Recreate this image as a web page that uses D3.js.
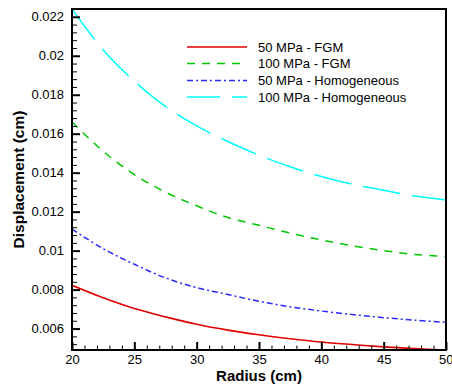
<!DOCTYPE html>
<html>
<head>
<meta charset="utf-8">
<script src="https://cdn.jsdelivr.net/npm/d3@7/dist/d3.min.js"></script>
<style>
  body { margin: 0; background: #fff; }
  svg { display: block; font-family: "Liberation Sans", Arial, sans-serif; }
</style>
</head>
<body>
<svg id="chart" width="452" height="387"></svg>
<script>
// ---- data ----
const radius = [20, 22.5, 25, 27.5, 30, 32.5, 35, 37.5, 40, 42.5, 45, 47.5, 50];
const fgm50  = [0.00822, 0.00758, 0.00703, 0.00660, 0.00622, 0.00592, 0.00568, 0.00548, 0.00531, 0.00518, 0.00506, 0.00497, 0.00490];
const fgm100 = [0.0166, 0.0151, 0.0139, 0.0130, 0.0123, 0.0117, 0.0113, 0.0109, 0.01055, 0.01025, 0.0100, 0.0098, 0.0097];
const hom50  = [0.0111, 0.0101, 0.0093, 0.0086, 0.0081, 0.00775, 0.0074, 0.00712, 0.0069, 0.00672, 0.00656, 0.00643, 0.00632];
const hom100 = [0.0224, 0.0203, 0.0187, 0.0174, 0.0164, 0.0156, 0.0149, 0.0143, 0.0138, 0.0134, 0.0131, 0.0128, 0.0126];
const seriesNames = ["50 MPa - FGM", "100 MPa - FGM", "50 MPa - Homogeneous", "100 MPa - Homogeneous"];
const xTicks = [20, 25, 30, 35, 40, 45, 50];
const yTicks = [0.006, 0.008, 0.01, 0.012, 0.014, 0.016, 0.018, 0.02, 0.022];
const yTickLabels = ["0.006", "0.008", "0.01", "0.012", "0.014", "0.016", "0.018", "0.02", "0.022"];

const series = [
  { name: seriesNames[0], values: fgm50,  color: "#e00000", dash: null, width: 1.6 },
  { name: seriesNames[1], values: fgm100, color: "#00c800", dash: "8,7", width: 1.5 },
  { name: seriesNames[2], values: hom50,  color: "#2828ff", dash: "6,3,2,3", width: 1.5 },
  { name: seriesNames[3], values: hom100, color: "#00ffff", dash: "38,12", width: 1.5 }
];

const svg = d3.select("#chart");
const L = 72, R = 446, T = 9, B = 350;

const x = d3.scaleLinear().domain([20, 50]).range([L, R]);
const y = d3.scaleLinear().domain([0.0049, 0.0224]).range([B, T]);

svg.append("clipPath").attr("id", "clip")
  .append("rect").attr("x", L).attr("y", T).attr("width", R - L).attr("height", B - T);

const line = d3.line().x(d => x(d[0])).y(d => y(d[1])).curve(d3.curveCatmullRom.alpha(0.5));

const plot = svg.append("g").attr("clip-path", "url(#clip)");
series.forEach(s => {
  plot.append("path")
    .datum(radius.map((r, i) => [r, s.values[i]]))
    .attr("d", line)
    .attr("fill", "none")
    .attr("stroke", s.color)
    .attr("stroke-width", s.width)
    .attr("stroke-dasharray", s.dash);
});

// axes with inward ticks
const xMinor = d3.range(20, 51, 1).filter(v => v % 5 !== 0);
const yMinor = d3.range(0.0052, 0.0225, 0.0004).filter(v => Math.abs(v / 0.002 - Math.round(v / 0.002)) > 0.01);

const xAxis = svg.append("g").attr("transform", `translate(0,${B})`)
  .call(d3.axisBottom(x).tickValues(xTicks).tickSize(-8).tickPadding(5).tickFormat(d3.format("d")));
svg.append("g").attr("transform", `translate(0,${B})`)
  .call(d3.axisBottom(x).tickValues(xMinor).tickSize(-4.5).tickFormat(""))
  .call(g => g.select(".domain").remove());

const yAxis = svg.append("g").attr("transform", `translate(${L},0)`)
  .call(d3.axisLeft(y).tickValues(yTicks).tickSize(-8).tickPadding(8).tickFormat((d, i) => yTickLabels[i]));
svg.append("g").attr("transform", `translate(${L},0)`)
  .call(d3.axisLeft(y).tickValues(yMinor).tickSize(-5).tickFormat(""))
  .call(g => g.select(".domain").remove());

svg.selectAll(".tick line").attr("stroke", "#000").attr("stroke-width", 1);
xAxis.selectAll(".tick line").attr("stroke-width", 2);
yAxis.selectAll(".tick line").attr("stroke-width", 2);
svg.selectAll(".domain").remove();
svg.selectAll(".tick text").attr("font-size", 13).attr("fill", "#000")
  .attr("font-family", "'Liberation Sans', Arial, sans-serif");
xAxis.selectAll(".tick text").filter(d => d === 50).attr("text-anchor", "end").attr("dx", "7");

// frame
svg.append("rect").attr("x", L).attr("y", T).attr("width", R - L).attr("height", B - T)
  .attr("fill", "none").attr("stroke", "#000").attr("stroke-width", 2);

// axis titles
svg.append("text").attr("x", (L + R) / 2).attr("y", 381).attr("text-anchor", "middle")
  .attr("font-size", 15).attr("font-weight", "bold").text("Radius (cm)");
svg.append("text").attr("transform", `translate(24,${(T + B) / 2}) rotate(-90)`)
  .attr("text-anchor", "middle").attr("font-size", 15.5).attr("font-weight", "bold")
  .text("Displacement (cm)");

// legend
const legY = [47, 63.5, 80.5, 97];
const lg = svg.append("g");
series.forEach((s, i) => {
  lg.append("line").attr("x1", 187).attr("x2", 247).attr("y1", legY[i]).attr("y2", legY[i])
    .attr("stroke", s.color).attr("stroke-width", s.width).attr("stroke-dasharray", s.dash === "38,12" ? "33,12" : s.dash);
  lg.append("text").attr("x", 258).attr("y", legY[i] + 4.5).attr("font-size", 13)
    .attr("fill", "#000").text(s.name);
});
</script>
</body>
</html>
